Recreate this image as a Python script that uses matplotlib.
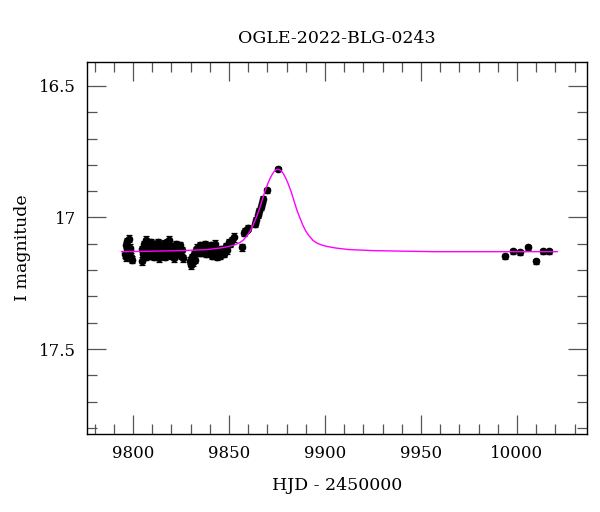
import matplotlib
matplotlib.use("Agg")
import matplotlib.pyplot as plt
from matplotlib.ticker import MultipleLocator
import numpy as np

# ---- photometry (HJD-2450000, I mag, error) ----
hjd = [
    9795.9, 9796.2, 9796.5, 9796.8, 9797.1, 9797.4, 9797.7, 9798.0, 9798.3, 9798.6, 9798.9, 9799.2,
    9804.6, 9804.9, 9805.3, 9805.7, 9806.1, 9806.5, 9806.9, 9807.3, 9807.7, 9808.1, 9808.6, 9809.0,
    9809.5, 9809.9, 9810.4, 9810.8, 9811.3, 9811.7, 9812.2, 9812.6, 9813.1, 9813.6, 9814.0, 9814.5,
    9815.0, 9815.4, 9815.9, 9816.4, 9816.8, 9817.3, 9817.8, 9818.3, 9818.7, 9819.2, 9819.7, 9820.2,
    9820.7, 9821.2, 9821.7, 9822.2, 9822.7, 9823.2, 9823.7, 9824.3, 9824.8, 9825.3, 9825.8,
    9829.8, 9830.3, 9830.8, 9831.3, 9831.8, 9832.3, 9832.8, 9833.3, 9833.8,
    9834.5, 9835.0, 9835.6, 9836.2, 9836.8, 9837.5, 9838.2, 9839.0, 9839.7, 9840.4, 9841.1, 9841.8,
    9842.5, 9843.2, 9843.9, 9844.6, 9845.3, 9846.0, 9846.8, 9847.5, 9848.3, 9849.0, 9849.8, 9850.5,
    9851.3, 9852.4,
    9857.0, 9857.6, 9858.3, 9859.1, 9859.9,
    9863.4, 9864.2, 9865.0, 9865.8, 9866.6, 9867.3, 9867.8, 9869.6, 9875.5,
    9993.8, 9998.0, 10001.5, 10005.7, 10009.9, 10013.5, 10016.7,
]
mag = [
    17.140, 17.105, 17.150, 17.120, 17.090, 17.135, 17.145, 17.080, 17.115, 17.125, 17.150, 17.160,
    17.120, 17.165, 17.140, 17.100, 17.130, 17.150, 17.085, 17.115, 17.135, 17.105, 17.145, 17.120,
    17.095, 17.130, 17.110, 17.150, 17.125, 17.100, 17.140, 17.115, 17.095, 17.155, 17.130, 17.110,
    17.140, 17.120, 17.100, 17.135, 17.150, 17.115, 17.095, 17.130, 17.085, 17.120, 17.145, 17.110,
    17.135, 17.155, 17.120, 17.100, 17.140, 17.115, 17.130, 17.105, 17.145, 17.125, 17.155,
    17.165, 17.180, 17.150, 17.170, 17.140, 17.160, 17.125, 17.115, 17.135,
    17.120, 17.105, 17.135, 17.110, 17.125, 17.100, 17.140, 17.120, 17.130, 17.105, 17.145, 17.115,
    17.100, 17.135, 17.150, 17.125, 17.145, 17.120, 17.135, 17.140, 17.110, 17.125, 17.095, 17.100,
    17.087, 17.076,
    17.114, 17.058, 17.052, 17.046, 17.040,
    17.025, 17.010, 16.992, 16.975, 16.960, 16.945, 16.930, 16.897, 16.817,
    17.148, 17.129, 17.133, 17.114, 17.167, 17.129, 17.129,
]
err = [
    0.014, 0.012, 0.016, 0.012, 0.013, 0.012, 0.014, 0.012, 0.013, 0.012, 0.014, 0.013,
    0.012, 0.016, 0.013, 0.012, 0.012, 0.013, 0.014, 0.012, 0.012, 0.013, 0.012, 0.012,
    0.013, 0.012, 0.012, 0.013, 0.012, 0.012, 0.013, 0.012, 0.012, 0.014, 0.012, 0.012,
    0.013, 0.012, 0.013, 0.012, 0.013, 0.012, 0.012, 0.013, 0.014, 0.012, 0.012, 0.012,
    0.012, 0.013, 0.012, 0.012, 0.012, 0.012, 0.013, 0.012, 0.012, 0.012, 0.013,
    0.013, 0.015, 0.012, 0.013, 0.012, 0.012, 0.012, 0.013, 0.012,
    0.012, 0.012, 0.012, 0.013, 0.012, 0.012, 0.012, 0.013, 0.012, 0.012, 0.012, 0.012,
    0.014, 0.012, 0.012, 0.012, 0.012, 0.012, 0.012, 0.012, 0.012, 0.012, 0.012, 0.012,
    0.012, 0.016,
    0.014, 0.011, 0.011, 0.011, 0.011,
    0.011, 0.011, 0.011, 0.011, 0.011, 0.011, 0.011, 0.010, 0.008,
    0.011, 0.010, 0.010, 0.010, 0.011, 0.010, 0.010,
]

# ---- model curve (symmetric about the peak) ----
model_peak = 9875.5
model_dt = [0.0, 1.0, 2.0, 3.0, 4.0, 5.0, 6.0, 7.0, 7.8, 9.0, 10.0, 11.5, 13.0, 14.5, 16.0,
            18.25, 20.0, 22.5, 25.5, 30.0, 37.0, 50.0, 65.0, 81.5, 110.0, 145.5]
model_dm = [16.817, 16.819, 16.825, 16.836, 16.850, 16.866, 16.885, 16.905, 16.924, 16.952,
            16.975, 17.003, 17.030, 17.052, 17.068, 17.087, 17.096, 17.104, 17.110, 17.116,
            17.122, 17.126, 17.128, 17.130, 17.130, 17.130]
model_t = [model_peak - d for d in model_dt[:0:-1] if model_peak - d >= 9794.0] + \
          [model_peak + d for d in model_dt]
model_m = [m for d, m in zip(model_dt[:0:-1], model_dm[:0:-1]) if model_peak - d >= 9794.0] + model_dm

title = "OGLE-2022-BLG-0243"
xlabel = "HJD - 2450000"
ylabel = "I magnitude"

plt.rcParams['font.family'] = ['DejaVu Serif']
fig = plt.figure(figsize=(6.0, 5.12), dpi=100)
ax = fig.add_axes([87/600, 1-434/512, 500/600, 372/512])

ax.plot(model_t, model_m, color='#ff00ff', lw=1.0, zorder=3)
ax.errorbar(hjd, mag, yerr=err, fmt='o', ms=4.5, color='black', mfc='black', mec='black',
            ecolor='black', elinewidth=0.9, capsize=2.5, capthick=0.9, zorder=2)

ax.set_xlim(9776, 10036.5)
ax.set_ylim(17.823, 16.409)
ax.xaxis.set_major_locator(MultipleLocator(50))
ax.xaxis.set_minor_locator(MultipleLocator(10))
ax.yaxis.set_major_locator(MultipleLocator(0.5))
ax.yaxis.set_minor_locator(MultipleLocator(0.1))
ax.set_yticks([16.5, 17.0, 17.5])
ax.set_yticklabels(['16.5', '17', '17.5'])
ax.tick_params(which='both', direction='in', top=True, right=True, color='#555555', width=0.9)
ax.tick_params(which='major', length=14, labelsize=12, pad=8)
ax.tick_params(which='minor', length=7)
for s in ax.spines.values():
    s.set_linewidth(1.0)

ax.set_title(title, fontsize=12.5, pad=14)
ax.set_xlabel(xlabel, fontsize=12.5, labelpad=11)
ax.set_ylabel(ylabel, fontsize=12.5, labelpad=6)

fig.savefig("out.png", dpi=100)
